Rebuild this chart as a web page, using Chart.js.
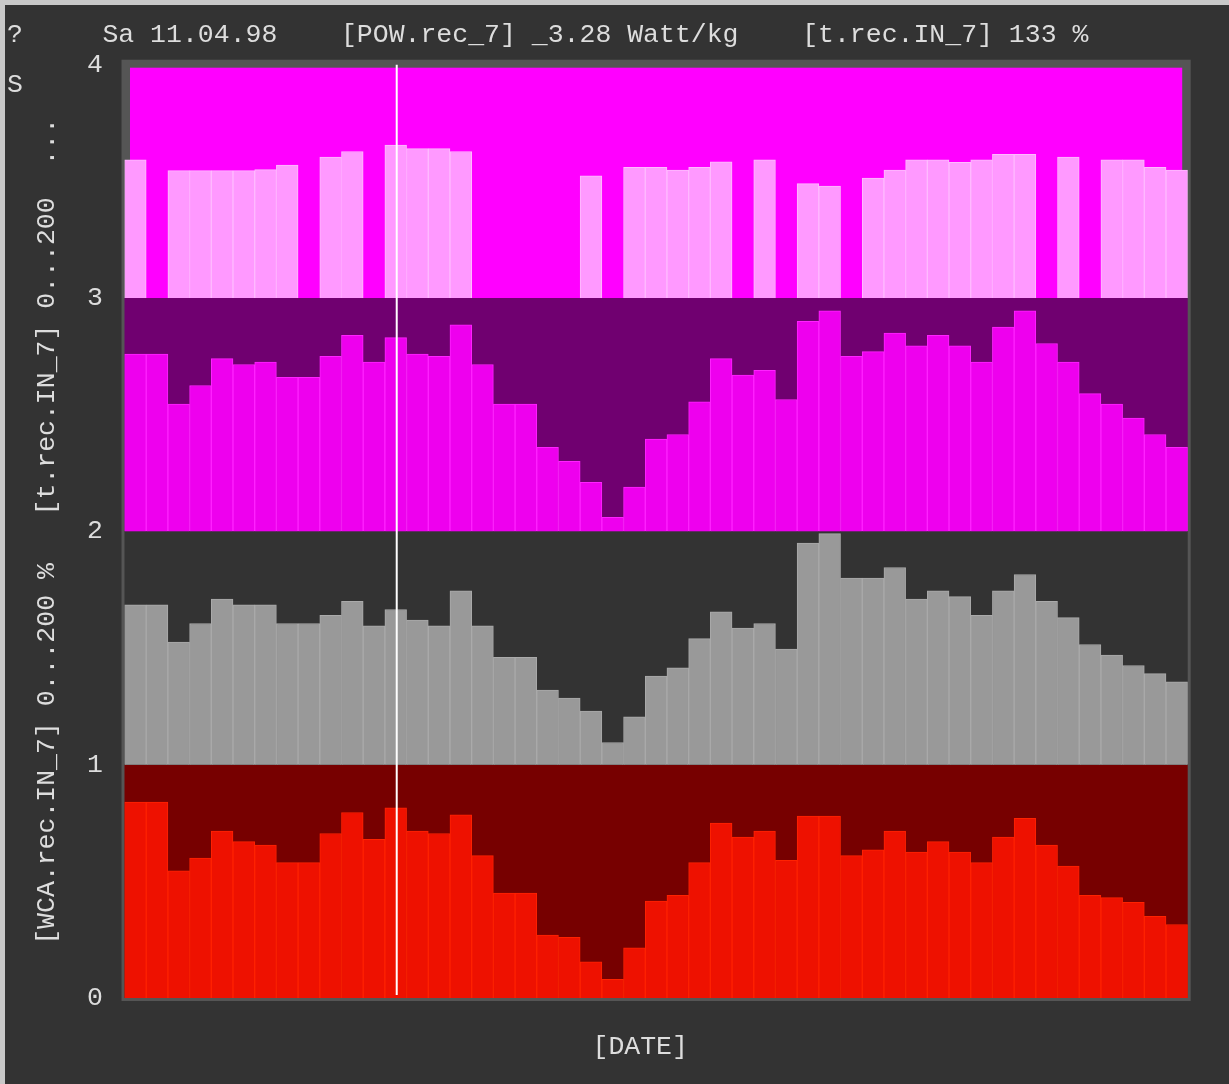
<!DOCTYPE html>
<html>
<head>
<meta charset="utf-8">
<title>POW.rec_7 / t.rec.IN_7 / WCA.rec.IN_7</title>
<script src="https://cdn.jsdelivr.net/npm/chart.js@4.4.0/dist/chart.umd.min.js"></script>
<style>
  html, body { margin: 0; padding: 0; background: #333333; }
  canvas { display: block; }
</style>
</head>
<body>
<canvas id="myChart" width="1229" height="1084"></canvas>
<script>
// one bar per day
var dates = [
  "30.03.98", "31.03.98",
  "01.04.98", "02.04.98", "03.04.98", "04.04.98", "05.04.98", "06.04.98", "07.04.98", "08.04.98",
  "09.04.98", "10.04.98", "11.04.98", "12.04.98", "13.04.98", "14.04.98", "15.04.98", "16.04.98",
  "17.04.98", "18.04.98", "19.04.98", "20.04.98", "21.04.98", "22.04.98", "23.04.98", "24.04.98",
  "25.04.98", "26.04.98", "27.04.98", "28.04.98", "29.04.98", "30.04.98",
  "01.05.98", "02.05.98", "03.05.98", "04.05.98", "05.05.98", "06.05.98", "07.05.98", "08.05.98",
  "09.05.98", "10.05.98", "11.05.98", "12.05.98", "13.05.98", "14.05.98", "15.05.98", "16.05.98",
  "17.05.98"
];

// bottom band (red), 0...200 %
var wcaRec = [168, 168, 109, 120, 143, 134, 131, 116, 116, 141, 159, 136, 163, 143, 141, 157, 122,
  90, 90, 54, 52, 31, 16, 43, 83, 88, 116, 150, 138, 143, 118, 156, 156, 122, 127, 143, 125, 134,
  125, 116, 138, 154, 131, 113, 88, 86, 82, 70, 63];

// second band (grey), 0...200 %
var tRec = [137, 137, 105, 121, 142, 137, 137, 121, 121, 128, 140, 119, 133, 124, 119, 149, 119,
  92, 92, 64, 57, 46, 19, 41, 76, 83, 108, 131, 117, 121, 99, 190, 198, 160, 160, 169, 142, 149,
  144, 128, 149, 163, 140, 126, 103, 94, 85, 78, 71];

// third band (magenta), 0...200
var tRecIn = [152, 152, 109, 125, 148, 143, 145, 132, 132, 150, 168, 145, 166, 152, 150, 177, 143,
  109, 109, 72, 60, 42, 12, 38, 79, 83, 111, 148, 134, 138, 113, 180, 189, 150, 154, 170, 159, 168,
  159, 145, 175, 189, 161, 145, 118, 109, 97, 83, 72];

// top band (pink), Watt/kg 0...5, null = no value that day
var powRec = [2.96, null, 2.73, 2.73, 2.73, 2.73, 2.75, 2.85, null, 3.02, 3.14, null, 3.28, 3.20,
  3.20, 3.14, null, null, null, null, null, 2.62, null, 2.80, 2.80, 2.74, 2.80, 2.92, null, 2.96,
  null, 2.45, 2.40, null, 2.57, 2.74, 2.96, 2.96, 2.91, 2.96, 3.08, 3.08, null, 3.02, null, 2.96,
  2.96, 2.80, 2.74];

var yTicks = ["0", "1", "2", "3", "4"];
var cursorIndex = 12;
var headerText = "?     Sa 11.04.98    [POW.rec_7] _3.28 Watt/kg    [t.rec.IN_7] 133 %";
var yTitle = "[WCA.rec.IN_7] 0...200 %   [t.rec.IN_7] 0...200  ...";
var xTitle = "[DATE]  ";

var FONT = "Liberation Mono";
var TXT = "#dddddd";

function band(values, base, full) {
  return values.map(function (v) {
    return v === null ? null : [base, base + v / full];
  });
}

// band backgrounds, frame, cursor line
var bandPlugin = {
  id: "bands",
  beforeDraw: function (chart) {
    var c = chart.ctx, a = chart.chartArea, y = chart.scales.y;
    var y0 = y.getPixelForValue(0), y1 = y.getPixelForValue(1), y2 = y.getPixelForValue(2);
    var y3 = y.getPixelForValue(3), y4 = y.getPixelForValue(4);
    c.save();
    c.fillStyle = "#c8c8c8";
    c.fillRect(0, 0, chart.width, chart.height);
    c.fillStyle = "#333333";
    c.fillRect(5, 5, chart.width, chart.height);
    c.fillStyle = "#555555";
    c.fillRect(a.left - 3, y4 - 5, a.width + 6, y0 - y4 + 8);
    c.fillStyle = "#770000";
    c.fillRect(a.left, y1, a.width, y0 - y1);
    c.fillStyle = "#333333";
    c.fillRect(a.left, y2, a.width, y1 - y2);
    c.fillStyle = "#700070";
    c.fillRect(a.left, y3, a.width, y2 - y3);
    c.fillStyle = "#ff00ff";
    c.fillRect(a.left + 5.5, y4 + 3, a.width - 11, y3 - y4 - 3);
    c.restore();
  },
  afterDatasetsDraw: function (chart) {
    var c = chart.ctx, y = chart.scales.y;
    var x = chart.scales.x.getPixelForValue(cursorIndex) + 1;
    c.save();
    c.strokeStyle = "#ffffff";
    c.lineWidth = 2;
    c.beginPath();
    c.moveTo(x, y.getPixelForValue(4));
    c.lineTo(x, y.getPixelForValue(0) - 3);
    c.stroke();
    c.restore();
  },
  afterDraw: function (chart) {
    var c = chart.ctx;
    c.save();
    c.fillStyle = TXT;
    c.font = "26.5px '" + FONT + "'";
    c.textBaseline = "middle";
    c.fillText("S", 7, 85);
    c.restore();
  }
};

var ctx = document.getElementById("myChart").getContext("2d");
var myChart = new Chart(ctx, {
  type: "bar",
  data: {
    labels: dates,
    datasets: [
      {
        label: "WCA.rec.IN_7",
        data: band(wcaRec, 0, 200),
        backgroundColor: "#ee1100",
        borderColor: "#ff2200",
        borderWidth: 1,
      },
      {
        label: "t.rec.IN_7",
        data: band(tRec, 1, 200),
        backgroundColor: "#999999",
        borderColor: "#aaaaaa",
        borderWidth: 1,
      },
      {
        label: "t.rec.IN_7 (2)",
        data: band(tRecIn, 2, 200),
        backgroundColor: "#ee00ee",
        borderColor: "#ff22ff",
        borderWidth: 1,
      },
      {
        label: "POW.rec_7",
        data: band(powRec, 3, 5),
        backgroundColor: "#ff99ff",
        borderColor: "#ffbbff",
        borderWidth: 1,
      },
    ],
  },
  options: {
    responsive: false,
    animation: false,
    devicePixelRatio: 1,
    layout: { padding: { left: 7, right: 41.3, top: 0, bottom: 0 } },
    datasets: {
      bar: { barPercentage: 1, categoryPercentage: 1, grouped: false, borderSkipped: "start" },
    },
    plugins: {
      legend: { display: false },
      tooltip: { enabled: false },
      title: {
        display: true,
        text: headerText,
        align: "start",
        color: TXT,
        font: { family: FONT, size: 26.5, weight: "normal", lineHeight: 1.2 },
        padding: { top: 19, bottom: 13.9 },
      },
    },
    scales: {
      x: {
        grid: { display: false, drawTicks: false },
        border: { display: false },
        ticks: { display: false },
        title: {
          display: true,
          text: xTitle,
          color: TXT,
          font: { family: FONT, size: 26.5, lineHeight: 1.2 },
          padding: { top: 0, bottom: 21 },
        },
        afterFit: function (s) { s.height = 86; },
      },
      y: {
        min: 0,
        max: 4,
        grid: { display: false, drawTicks: false },
        border: { display: false },
        ticks: {
          stepSize: 1,
          color: TXT,
          padding: 21.5,
          font: { family: FONT, size: 26.5 },
          callback: function (v) { return yTicks[v]; },
        },
        title: {
          display: true,
          text: yTitle,
          color: TXT,
          font: { family: FONT, size: 26.5, lineHeight: 1.2 },
          padding: { top: 24, bottom: 0 },
        },
        afterFit: function (s) { s.width = 117.5; },
      },
    },
  },
  plugins: [bandPlugin],
});
</script>
</body>
</html>
